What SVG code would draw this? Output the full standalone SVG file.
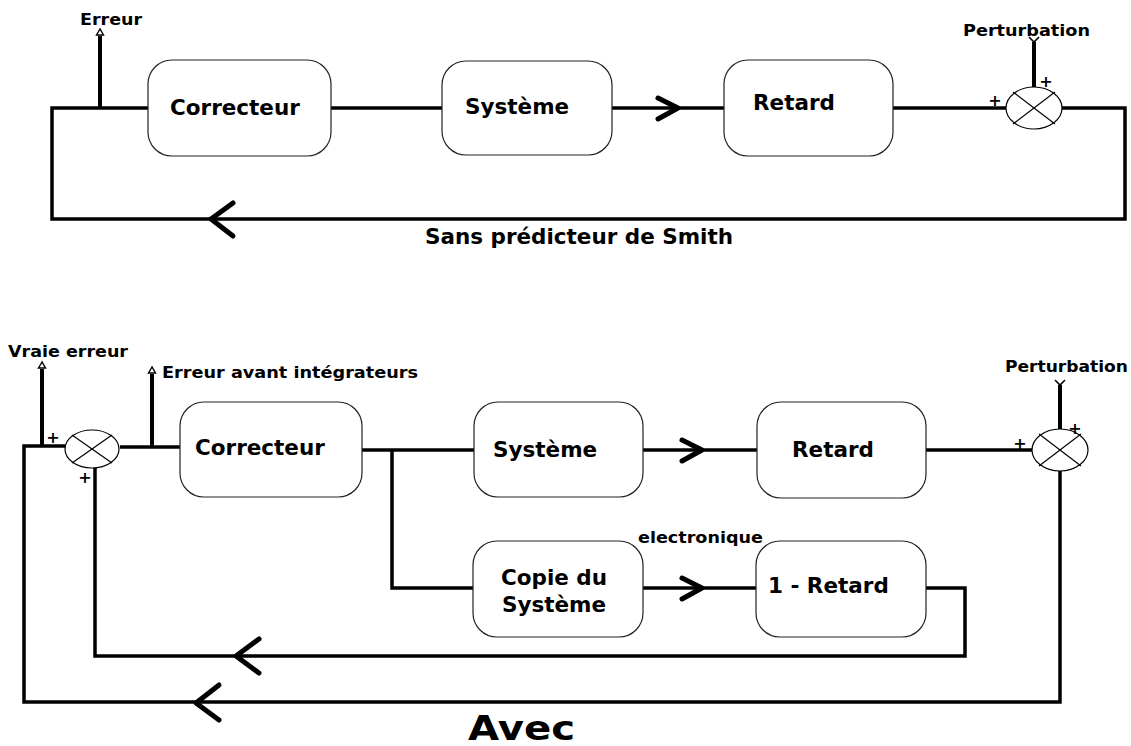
<svg xmlns="http://www.w3.org/2000/svg" width="1131" height="746" viewBox="0 0 1131 746">
<style>
.box{fill:#fff;stroke:#222;stroke-width:1.2}
.lbl{font-family:"DejaVu Sans",Verdana,sans-serif;font-weight:bold;font-size:21.5px;fill:#000}
.sm{font-family:"DejaVu Sans",Verdana,sans-serif;font-weight:bold;font-size:16px;fill:#000}
.plus{font-family:"DejaVu Sans",Verdana,sans-serif;font-weight:bold;font-size:16px;fill:#000;text-anchor:middle}
.w{fill:none;stroke:#000;stroke-width:3.5;stroke-linejoin:miter;stroke-linecap:butt}
.chev{fill:none;stroke:#000;stroke-width:5;stroke-linecap:round;stroke-linejoin:round}
.sum{fill:#fff;stroke:#000;stroke-width:1.2}
.x{stroke:#000;stroke-width:1.2}
.tap{fill:#fff;stroke:#000;stroke-width:1.4}
.fork{fill:none;stroke:#000;stroke-width:1.6}
</style>

<g id="connectors">
  <!-- top diagram -->
  <path class="w" d="M148,108 H52 V219 H1125 V108 H1062"/>
  <path class="w" d="M331,108 H442"/>
  <path class="w" d="M612,108 H724"/>
  <path class="w" d="M893,108 H1006"/>
  <path class="w" d="M100,108 V36" style="stroke-width:4"/>
  <path class="w" d="M1034,42 V87" style="stroke-width:4"/>
  <path class="chev" d="M658,98 L678,108 L658,119"/>
  <path class="chev" d="M233,203 L211,219 L233,236"/>
  <polygon class="tap" points="100,29 96.5,35 103.5,35"/>
  <path class="fork" d="M1029,37 L1034,42 L1039,37"/>

  <!-- bottom diagram -->
  <path class="w" d="M65,446 H24 V702 H1060 V471"/>
  <path class="w" d="M42,446 V369" style="stroke-width:4"/>
  <path class="w" d="M120,447 H180"/>
  <path class="w" d="M152,447 V374" style="stroke-width:4"/>
  <path class="w" d="M95,468 V656 H965 V588 H926"/>
  <path class="w" d="M362,450 H474"/>
  <path class="w" d="M392,450 V588 H473"/>
  <path class="w" d="M643,450 H757"/>
  <path class="w" d="M926,450 H1032"/>
  <path class="w" d="M643,588 H756"/>
  <path class="w" d="M1060,385 V429" style="stroke-width:4"/>
  <path class="chev" d="M682,440 L702,450 L682,461"/>
  <path class="chev" d="M682,578 L702,588 L682,599"/>
  <path class="chev" d="M259,639 L236,656 L259,673"/>
  <path class="chev" d="M219,685 L196,703 L219,720"/>
  <polygon class="tap" points="42,362 38.5,368 45.5,368"/>
  <polygon class="tap" points="152,367 148.5,373 155.5,373"/>
  <path class="fork" d="M1055,380 L1060,385 L1065,380"/>
</g>

<g id="top-correcteur">
  <rect class="box" x="148" y="60" width="183" height="96" rx="24"/>
  <text class="lbl" x="170" y="115">Correcteur</text>
</g>
<g id="top-systeme">
  <rect class="box" x="442" y="61" width="170" height="94" rx="24"/>
  <text class="lbl" x="465" y="114">Système</text>
</g>
<g id="top-retard">
  <rect class="box" x="724" y="60" width="169" height="96" rx="24"/>
  <text class="lbl" x="753" y="110">Retard</text>
</g>
<g id="top-sum">
  <ellipse class="sum" cx="1034" cy="108" rx="28" ry="21"/>
  <line class="x" x1="1013" y1="92" x2="1055" y2="124"/>
  <line class="x" x1="1013" y1="124" x2="1055" y2="92"/>
  <text class="plus" x="1046" y="87">+</text>
  <text class="plus" x="995" y="106">+</text>
</g>
<g id="top-labels">
  <text class="sm" x="80" y="25" textLength="62" lengthAdjust="spacingAndGlyphs">Erreur</text>
  <text class="sm" x="963" y="36" textLength="127" lengthAdjust="spacingAndGlyphs">Perturbation</text>
  <text class="lbl" x="425" y="244" textLength="308" lengthAdjust="spacingAndGlyphs">Sans prédicteur de Smith</text>
</g>

<g id="bot-sum1">
  <ellipse class="sum" cx="92" cy="449" rx="27" ry="19"/>
  <line class="x" x1="72" y1="435" x2="112" y2="463"/>
  <line class="x" x1="72" y1="463" x2="112" y2="435"/>
  <text class="plus" x="53" y="443">+</text>
  <text class="plus" x="85" y="483">+</text>
</g>
<g id="bot-correcteur">
  <rect class="box" x="180" y="402" width="182" height="95" rx="24"/>
  <text class="lbl" x="195" y="455">Correcteur</text>
</g>
<g id="bot-systeme">
  <rect class="box" x="474" y="402" width="169" height="95" rx="24"/>
  <text class="lbl" x="493" y="457">Système</text>
</g>
<g id="bot-retard">
  <rect class="box" x="757" y="402" width="169" height="96" rx="24"/>
  <text class="lbl" x="792" y="457">Retard</text>
</g>
<g id="bot-sum2">
  <ellipse class="sum" cx="1060" cy="450" rx="28" ry="21"/>
  <line class="x" x1="1039" y1="434" x2="1081" y2="466"/>
  <line class="x" x1="1039" y1="466" x2="1081" y2="434"/>
  <text class="plus" x="1075" y="434">+</text>
  <text class="plus" x="1020" y="449">+</text>
</g>
<g id="bot-copie">
  <rect class="box" x="473" y="541" width="170" height="96" rx="24"/>
  <text class="lbl" x="554" y="585" text-anchor="middle">Copie du</text>
  <text class="lbl" x="554" y="612" text-anchor="middle">Système</text>
</g>
<g id="bot-unmoinsretard">
  <rect class="box" x="756" y="541" width="170" height="96" rx="24"/>
  <text class="lbl" x="768" y="593">1 - Retard</text>
</g>
<g id="bot-labels">
  <text class="sm" x="8" y="357" textLength="120" lengthAdjust="spacingAndGlyphs">Vraie erreur</text>
  <text class="sm" x="162" y="378" textLength="256" lengthAdjust="spacingAndGlyphs">Erreur avant intégrateurs</text>
  <text class="sm" x="1005" y="372" textLength="123" lengthAdjust="spacingAndGlyphs">Perturbation</text>
  <text class="sm" x="638" y="543" textLength="125" lengthAdjust="spacingAndGlyphs">electronique</text>
  <text class="lbl" x="468" y="740" style="font-size:34px" textLength="107" lengthAdjust="spacingAndGlyphs">Avec</text>
</g>
</svg>
